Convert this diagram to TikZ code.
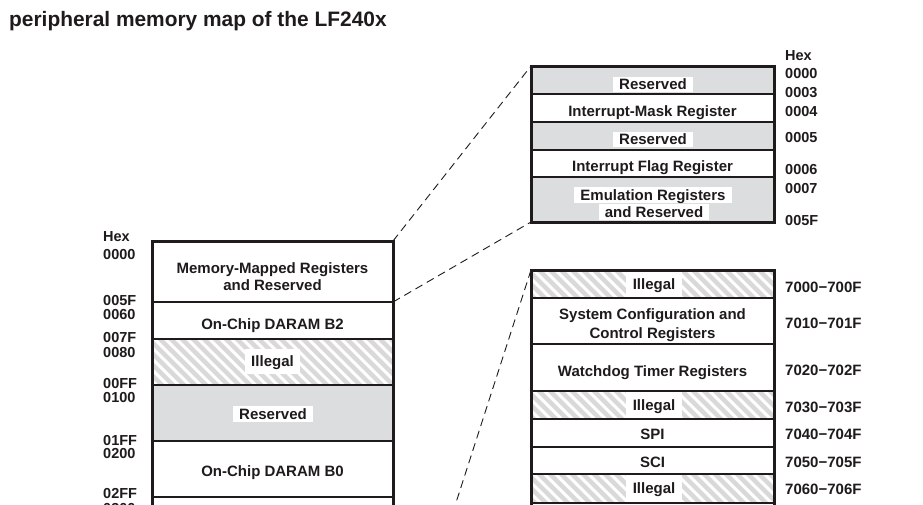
\documentclass[tikz,border=0pt]{standalone}
\usepackage{fontspec}
\setmainfont{Liberation Sans}
\definecolor{ink}{HTML}{1F1B1C}
\definecolor{rowgray}{HTML}{DCDDDE}
\definecolor{hatchgray}{HTML}{D9D9D9}
\newcommand\hatchrow[4]{%
  \begin{scope}
    \clip (#1,#2) rectangle (#3,#4);
    \foreach \k in {0,...,40} \draw[line width=4.4pt, hatchgray] ({#1-60+\k*11},{#2-2}) -- ++(80,80);
  \end{scope}}
\begin{document}
\begin{tikzpicture}[x=1pt,y=-1pt,
  txt/.style={font=\bfseries\fontsize{15}{18}\selectfont, text=ink, inner sep=0pt, text height=10.7pt, text depth=0pt},
  hexl/.style={font=\bfseries\fontsize{14.5}{17}\selectfont, text=ink, inner sep=0pt, text height=10.4pt, text depth=0pt, anchor=west},
  rng/.style={hexl, font=\bfseries\fontsize{15}{18}\selectfont},
  wbox/.style={txt, fill=white},
  frame/.style={line width=3pt, draw=ink},
  sep/.style={line width=1.2pt, draw=ink},
  link/.style={line width=0.9pt, draw=ink, dash pattern=on 8pt off 5pt}]
\clip (0,0) rectangle (923,504);
\fill[white] (0,0) rectangle (923,504);

% title
\node[font=\bfseries\fontsize{20.9}{24}\selectfont, text=ink, inner sep=0pt, anchor=base west] (title) at (9,26) {peripheral memory map of the LF240x};

% ---------- left column ----------
\fill[rowgray] (152,385) rectangle (393,441);
\hatchrow{152}{339}{393}{385}
\node[wbox, minimum width=55pt, minimum height=25pt] (lill) at (272.5,361.5) {Illegal};
\node[wbox, minimum width=80pt, minimum height=16pt] (lres) at (273,414) {Reserved};
\node[txt] (lmm1) at (272.5,268) {Memory-Mapped Registers};
\node[txt] (lmm2) at (272.5,285) {and Reserved};
\node[txt] (lb2) at (272.5,324) {On-Chip DARAM B2};
\node[txt] (lb0) at (272.5,471) {On-Chip DARAM B0};
\foreach \y in {302,339,385,441,497} \draw[sep] (152,\y) -- (393,\y);
\draw[frame] (152,600) -- (152,241) -- (393,241) -- (393,600);

\node[hexl] (lhex) at (103,236) {Hex};
\node[hexl] (l0000) at (103,254) {0000};
\node[hexl] (l005F) at (103,300) {005F};
\node[hexl] (l0060) at (103,314) {0060};
\node[hexl] (l007F) at (103,337) {007F};
\node[hexl] (l0080) at (103,352) {0080};
\node[hexl] (l00FF) at (103,383) {00FF};
\node[hexl] (l0100) at (103,397) {0100};
\node[hexl] (l01FF) at (103,440) {01FF};
\node[hexl] (l0200) at (103,453) {0200};
\node[hexl] (l02FF) at (103,493) {02FF};
\node[hexl] (l0300) at (103,508) {0300};

% ---------- top-right box ----------
\fill[rowgray] (531,66) rectangle (774,94);
\fill[rowgray] (531,122) rectangle (774,150);
\fill[rowgray] (531,177) rectangle (774,222);
\node[wbox, minimum width=80pt, minimum height=15pt] (tres1) at (653,84) {Reserved};
\node[txt] (timr) at (652.5,111) {Interrupt-Mask Register};
\node[wbox, minimum width=80pt, minimum height=15pt] (tres2) at (653,139.5) {Reserved};
\node[txt] (tifr) at (652.5,166) {Interrupt Flag Register};
\node[wbox, minimum width=158pt, minimum height=16.5pt] (temu1) at (653,195) {Emulation Registers};
\node[wbox, minimum width=110pt, minimum height=16.5pt] (temu2) at (654,212) {and Reserved};
\foreach \y in {94,122,150,177} \draw[sep] (531,\y) -- (774,\y);
\draw[frame] (531,66) rectangle (774,222);

\node[hexl] (thex) at (785,55) {Hex};
\node[hexl] (t0000) at (785,73) {0000};
\node[hexl] (t0003) at (785,92) {0003};
\node[hexl] (t0004) at (785,111) {0004};
\node[hexl] (t0005) at (785,137) {0005};
\node[hexl] (t0006) at (785,169) {0006};
\node[hexl] (t0007) at (785,188) {0007};
\node[hexl] (t005F) at (785,220) {005F};

% ---------- bottom-right box ----------
\hatchrow{531}{270}{774}{298}
\hatchrow{531}{391}{774}{419}
\hatchrow{531}{474}{774}{503}
\node[wbox, minimum width=56pt, minimum height=27pt] (bill1) at (654,284) {Illegal};
\node[txt] (bsys1) at (652.5,314) {System Configuration and};
\node[txt] (bsys2) at (652.5,333) {Control Registers};
\node[txt] (bwd) at (652.5,371) {Watchdog Timer Registers};
\node[wbox, minimum width=56pt, minimum height=27pt] (bill2) at (654,405.5) {Illegal};
\node[txt] (bspi) at (652.5,434) {SPI};
\node[txt] (bsci) at (652.5,462) {SCI};
\node[wbox, minimum width=56pt, minimum height=28pt] (bill3) at (654,488.5) {Illegal};
\foreach \y in {298,344,391,419,447,474,503} \draw[sep] (531,\y) -- (774,\y);
\draw[frame] (531,600) -- (531,270) -- (774,270) -- (774,600);

\node[rng] (r7000) at (785,287) {7000−700F};
\node[rng] (r7010) at (785,323) {7010−701F};
\node[rng] (r7020) at (785,370) {7020−702F};
\node[rng] (r7030) at (785,407) {7030−703F};
\node[rng] (r7040) at (785,434) {7040−704F};
\node[rng] (r7050) at (785,462) {7050−705F};
\node[rng] (r7060) at (785,489) {7060−706F};

% ---------- dashed links ----------
\coordinate (Ltr) at (393,241);
\coordinate (Lsep) at (393,302);
\coordinate (Ttl) at (531,66);
\coordinate (Tbl) at (531,222);
\coordinate (Btl) at (531,270);
\coordinate (Lend) at (393,698);
\draw[link] (Ltr) -- (Ttl);
\draw[link] (Lsep) -- (Tbl);
\draw[link] (Btl) -- (Lend);
\end{tikzpicture}
\end{document}
